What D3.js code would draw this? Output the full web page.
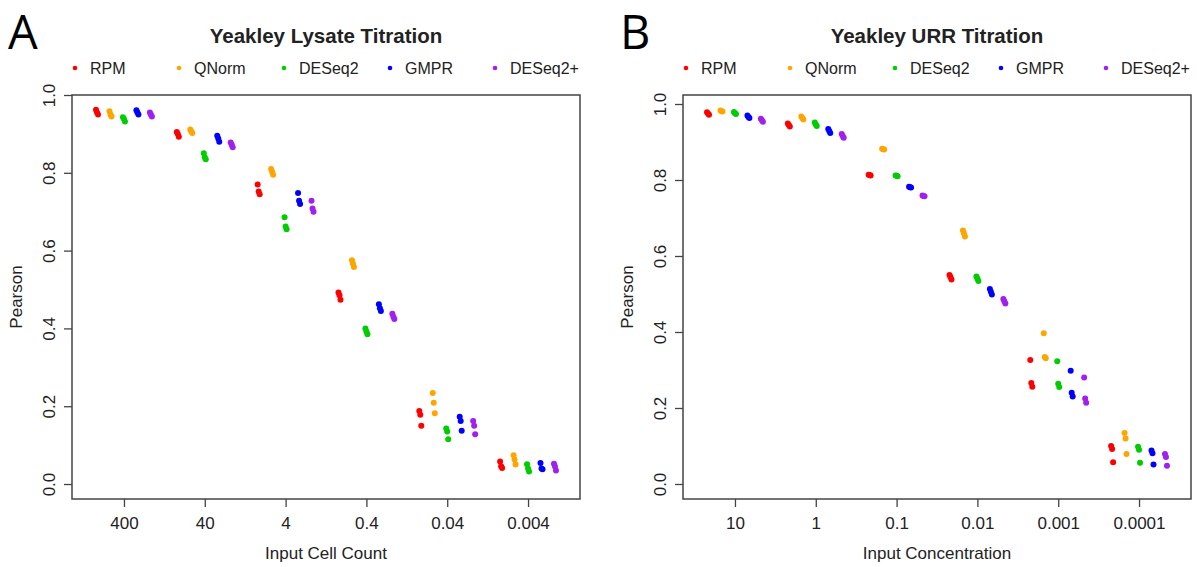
<!DOCTYPE html>
<html>
<head>
<meta charset="utf-8">
<script src="https://cdn.jsdelivr.net/npm/d3@7"></script>
<style>
  body { margin: 0; background: #fff; }
  svg text { font-family: "Liberation Sans", Arial, sans-serif; fill: #222; }
</style>
</head>
<body>
<div id="chart"></div>
<script>
// methods and colours
const methods = ["RPM", "QNorm", "DESeq2", "GMPR", "DESeq2+"];
const methodColors = ["#ff0000", "#ffa500", "#00cd00", "#0000ff", "#a020f0"];

// panel A: Yeakley Lysate Titration (3 replicates per dilution)
const lysateLabels = ["400", "40", "4", "0.4", "0.04", "0.004"];
const lysateRPM = [[0.962, 0.955, 0.950], [0.905, 0.900, 0.893], [0.770, 0.752, 0.745], [0.492, 0.485, 0.474], [0.188, 0.178, 0.150], [0.058, 0.046, 0.041]];
const lysateQNorm = [[0.958, 0.950, 0.945], [0.911, 0.906, 0.902], [0.810, 0.803, 0.795], [0.575, 0.566, 0.558], [0.234, 0.209, 0.182], [0.074, 0.063, 0.050]];
const lysateDESeq2 = [[0.943, 0.938, 0.932], [0.850, 0.840, 0.835], [0.686, 0.662, 0.655], [0.400, 0.392, 0.385], [0.143, 0.135, 0.115], [0.051, 0.040, 0.032]];
const lysateGMPR = [[0.961, 0.955, 0.950], [0.895, 0.888, 0.880], [0.748, 0.728, 0.720], [0.462, 0.452, 0.445], [0.173, 0.162, 0.137], [0.054, 0.040, 0.038]];
const lysateDESeq2p = [[0.955, 0.950, 0.945], [0.878, 0.872, 0.866], [0.728, 0.708, 0.700], [0.438, 0.430, 0.424], [0.162, 0.150, 0.128], [0.052, 0.045, 0.035]];

// panel B: Yeakley URR Titration
const urrLabels = ["10", "1", "0.1", "0.01", "0.001", "0.0001"];
const urrRPM = [[0.978, 0.975, 0.972], [0.949, 0.945, 0.941], [0.814, 0.813, 0.812], [0.550, 0.545, 0.538], [0.326, 0.266, 0.256], [0.100, 0.092, 0.057]];
const urrQNorm = [[0.983, 0.981, 0.980], [0.967, 0.963, 0.959], [0.882, 0.881, 0.880], [0.667, 0.660, 0.651], [0.397, 0.334, 0.331], [0.134, 0.120, 0.079]];
const urrDESeq2 = [[0.979, 0.976, 0.974], [0.951, 0.946, 0.942], [0.812, 0.811, 0.810], [0.546, 0.540, 0.534], [0.323, 0.264, 0.255], [0.098, 0.090, 0.056]];
const urrGMPR = [[0.970, 0.966, 0.963], [0.934, 0.929, 0.924], [0.782, 0.781, 0.780], [0.513, 0.506, 0.499], [0.298, 0.240, 0.230], [0.088, 0.081, 0.051]];
const urrDESeq2p = [[0.961, 0.957, 0.953], [0.921, 0.916, 0.911], [0.759, 0.758, 0.757], [0.487, 0.481, 0.475], [0.280, 0.225, 0.214], [0.079, 0.071, 0.048]];

const yTicks = [0, 0.2, 0.4, 0.6, 0.8, 1.0];

const svg = d3.select("#chart").append("svg")
  .attr("width", 1199)
  .attr("height", 567);

function drawPanel(p) {
  const g = svg.append("g");
  const top = 95, bottom = 499;
  const x = d3.scaleLinear().domain([0.357, 6.643]).range([p.left, p.right]);
  const y = d3.scaleLinear().domain(p.yDomain).range([bottom, top]);
  const step = 1 / 6;
  const repShift = [-1, 0, 1];

  // panel letter
  g.append("text")
    .attr("x", p.letterX)
    .attr("y", 49)
    .style("font-family", "'Open Sans', sans-serif")
    .style("font-size", "47px")
    .style("fill", "#000")
    .text(p.letter);

  // title
  g.append("text")
    .attr("x", (p.left + p.right) / 2)
    .attr("y", 43)
    .attr("text-anchor", "middle")
    .style("font-size", "20.5px")
    .style("font-weight", "bold")
    .text(p.title);

  // legend
  const legendOffsets = [3, 107, 212, 318, 423];
  methods.forEach((m, i) => {
    g.append("circle")
      .attr("cx", p.left + legendOffsets[i])
      .attr("cy", 68)
      .attr("r", 2.3)
      .attr("fill", methodColors[i]);
    g.append("text")
      .attr("x", p.left + legendOffsets[i] + 15)
      .attr("y", 74)
      .style("font-size", "16px")
      .text(m);
  });

  // points
  p.series.forEach((s, mi) => {
    s.forEach((reps, di) => {
      reps.forEach((v, ri) => {
        g.append("circle")
          .attr("cx", x(di + 1 + (mi - 2) * step) + repShift[ri])
          .attr("cy", y(v))
          .attr("r", 3)
          .attr("fill", methodColors[mi]);
      });
    });
  });

  // box
  g.append("rect")
    .attr("x", p.left)
    .attr("y", top)
    .attr("width", p.right - p.left)
    .attr("height", bottom - top)
    .attr("fill", "none")
    .attr("stroke", "#444")
    .attr("stroke-width", 1.5);

  // x axis
  const xAxis = g.append("g")
    .attr("transform", `translate(0,${bottom})`)
    .call(d3.axisBottom(x).tickValues([1, 2, 3, 4, 5, 6])
      .tickFormat(d => p.labels[d - 1]).tickSize(8).tickPadding(10));
  xAxis.select(".domain").remove();
  xAxis.selectAll("line").attr("stroke", "#444").attr("stroke-width", 1.3);
  xAxis.selectAll("text").style("font-size", "17px").style("fill", "#222")
    .style("font-family", "'Liberation Sans', Arial, sans-serif");

  // y axis
  const yAxis = g.append("g")
    .attr("transform", `translate(${p.left},0)`)
    .call(d3.axisLeft(y).tickValues(yTicks).tickFormat(d3.format(".1f")).tickSize(8));
  yAxis.select(".domain").remove();
  yAxis.selectAll("line").attr("stroke", "#444").attr("stroke-width", 1.3);
  yAxis.selectAll("text")
    .attr("x", null).attr("dy", null)
    .attr("transform", "translate(-23,0) rotate(-90)")
    .attr("text-anchor", "middle")
    .attr("dominant-baseline", "central")
    .style("font-size", "17px").style("fill", "#222")
    .style("font-family", "'Liberation Sans', Arial, sans-serif");

  // axis labels
  g.append("text")
    .attr("x", (p.left + p.right) / 2)
    .attr("y", 559)
    .attr("text-anchor", "middle")
    .style("font-size", "17px")
    .text(p.xTitle);
  g.append("text")
    .attr("transform", `translate(${p.left - 50},${(top + bottom) / 2}) rotate(-90)`)
    .attr("text-anchor", "middle")
    .style("font-size", "17px")
    .text("Pearson");
}

drawPanel({
  letter: "A", letterX: 8, left: 72, right: 580,
  title: "Yeakley Lysate Titration",
  xTitle: "Input Cell Count",
  labels: lysateLabels,
  yDomain: [-0.0385, 1.0],
  series: [lysateRPM, lysateQNorm, lysateDESeq2, lysateGMPR, lysateDESeq2p]
});

drawPanel({
  letter: "B", letterX: 620, left: 683, right: 1191,
  title: "Yeakley URR Titration",
  xTitle: "Input Concentration",
  labels: urrLabels,
  yDomain: [-0.0395, 1.0237],
  series: [urrRPM, urrQNorm, urrDESeq2, urrGMPR, urrDESeq2p]
});
</script>
</body>
</html>
